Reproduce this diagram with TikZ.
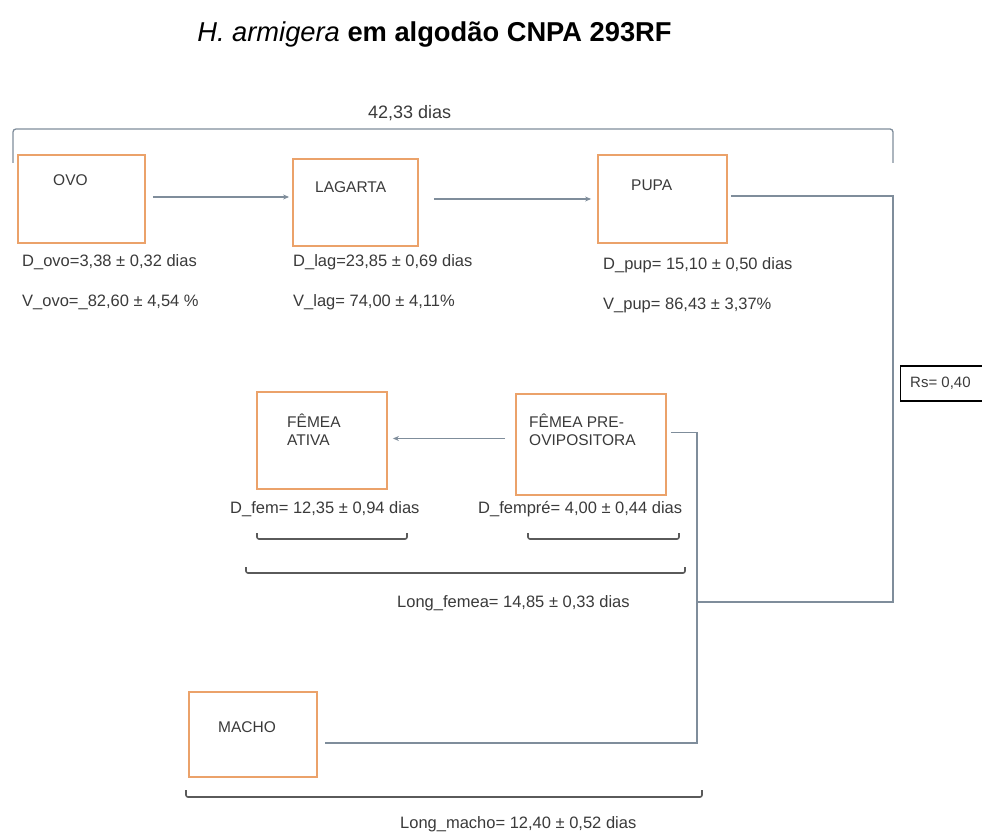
\documentclass[tikz,border=0pt]{standalone}
\usepackage{fontspec}
\setmainfont{Liberation Sans}
\usetikzlibrary{arrows.meta}
\definecolor{boxorange}{HTML}{EBA26A}
\definecolor{connclr}{HTML}{7F8D9B}
\definecolor{brclr}{HTML}{5A5A5A}
\definecolor{txtclr}{HTML}{3A3A3A}
\tikzset{
  stagebox/.style={draw=boxorange, line width=1.8pt, inner sep=0pt},
  boxtxt/.style={anchor=west, inner sep=0pt, font=\fontsize{15.5}{18}\selectfont, text=txtclr, align=left},
  lbl/.style={anchor=west, inner sep=0pt, font=\fontsize{16.5}{19}\selectfont, text=txtclr},
  conn/.style={draw=connclr, line width=1.3pt},
  arr/.style={-{Stealth[length=6pt,width=5pt]}},
  brk/.style={draw=brclr, line width=1.6pt, rounded corners=2pt},
}
\begin{document}
\begin{tikzpicture}[x=1pt,y=-1pt]
\useasboundingbox (0,0) rectangle (982,834);
% title
\node[inner sep=0pt, anchor=base, font=\fontsize{27.3}{31}\selectfont] (title) at (434.5,42)
  {\textit{H. armigera} \textbf{em algodão CNPA 293RF}};
% total bracket
\draw[conn, rounded corners=3pt] (13,163) -- (13,129) -- (893,129) -- (893,163);
\node[lbl, font=\fontsize{18}{21}\selectfont] (tot) at (368,113) {42,33 dias};
% boxes
\node[stagebox, minimum width=127pt, minimum height=88pt] (ovo) at (81.5,199) {};
\node[stagebox, minimum width=125pt, minimum height=87pt] (lag) at (355.5,202.5) {};
\node[stagebox, minimum width=129pt, minimum height=88pt] (pupa) at (662.5,199) {};
\node[stagebox, minimum width=130pt, minimum height=97pt] (ativa) at (322,440.5) {};
\node[stagebox, minimum width=150pt, minimum height=101pt] (pre) at (591,444.5) {};
\node[stagebox, minimum width=128pt, minimum height=85pt] (macho) at (253,734.5) {};
% box texts
\node[boxtxt] (tovo) at (53,180) {OVO};
\node[boxtxt] (tlag) at (315,187) {LAGARTA};
\node[boxtxt] (tpupa) at (631,185) {PUPA};
\node[boxtxt] (tativa) at (287,430) {FÊMEA\\ATIVA};
\node[boxtxt] (tpre) at (529,430) {FÊMEA PRE-\\OVIPOSITORA};
\node[boxtxt] (tmacho) at (218,727) {MACHO};
% Rs box
\node[draw=black, line width=1.2pt, minimum width=95pt, minimum height=35pt, inner sep=0pt,
      anchor=west] (rs) at (900,383.5) {};
\node[boxtxt, font=\fontsize{15}{18}\selectfont] (rstxt) at (910,383) {Rs= 0,40};
% labels
\node[lbl] (dovo) at (22,262) {D\_ovo=3,38 ± 0,32 dias};
\node[lbl] (vovo) at (22,302) {V\_ovo=\_82,60 ± 4,54 \%};
\node[lbl] (dlag) at (293,262) {D\_lag=23,85 ± 0,69 dias};
\node[lbl] (vlag) at (293,302) {V\_lag= 74,00 ± 4,11\%};
\node[lbl] (dpup) at (603,265) {D\_pup= 15,10 ± 0,50 dias};
\node[lbl] (vpup) at (603,305) {V\_pup= 86,43 ± 3,37\%};
\node[lbl] (dfem) at (230,509) {D\_fem= 12,35 ± 0,94 dias};
\node[lbl] (dfempre) at (478,509) {D\_fempré= 4,00 ± 0,44 dias};
\node[lbl] (lfem) at (397,603) {Long\_femea= 14,85 ± 0,33 dias};
\node[lbl] (lmacho) at (400,824) {Long\_macho= 12,40 ± 0,52 dias};
% coordinates for junctions
\coordinate (jr) at (893,602);
\coordinate (jm) at (697,602);
\coordinate (jb) at (697,743);
\coordinate (mr) at (325,743);
% connectors
\draw[conn, arr] ([xshift=7pt,yshift=2pt]ovo.east) -- ([xshift=-3pt,yshift=2pt]ovo.east -| lag.west);
\draw[conn, arr] ([xshift=15pt]lag.east |- pupa.west) -- ([xshift=-6pt]pupa.west);
\draw[conn] ([xshift=3pt,yshift=3pt]pupa.east) -| (jr) -- (jm);
\draw[conn] ([xshift=4pt,yshift=12pt]pre.east) -| (jb) -- (mr);
\draw[conn, arr] ([xshift=-10pt,yshift=6pt]pre.west) -- ([xshift=5pt,yshift=6pt]pre.west -| ativa.east);
% brackets
\draw[brk] (257,533) -- (257,539) -- (407,539) -- (407,533);
\draw[brk] (528,533) -- (528,539) -- (679,539) -- (679,533);
\draw[brk] (246,567) -- (246,573) -- (685,573) -- (685,567);
\draw[brk] (186,790) -- (186,797) -- (702,797) -- (702,790);
\end{tikzpicture}
\end{document}
